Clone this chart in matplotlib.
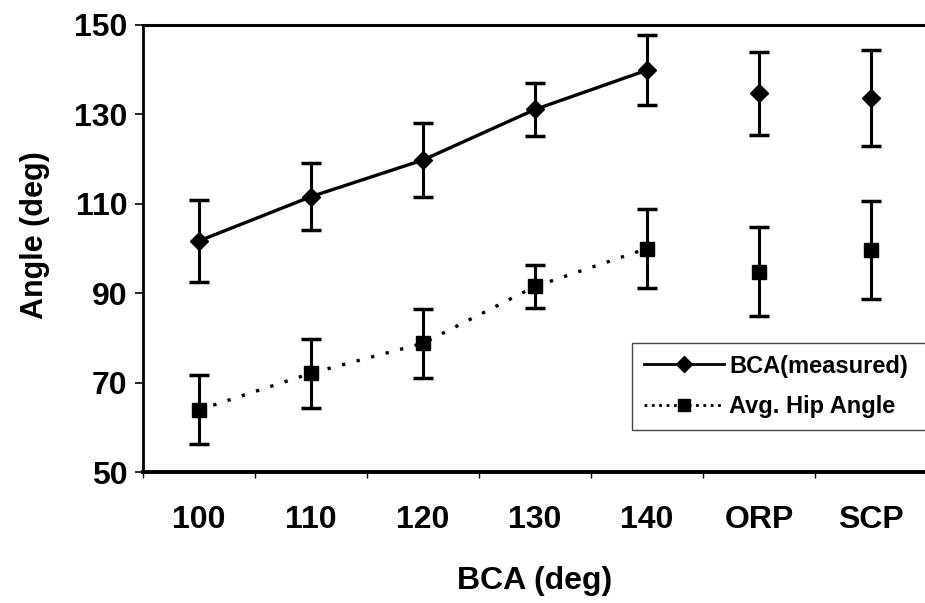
import numpy as np
import matplotlib
matplotlib.use("Agg")
import matplotlib.pyplot as plt
from matplotlib.ticker import FixedLocator

plt.rcParams['font.family'] = ['Liberation Sans', 'DejaVu Sans']

# data
categories = ['100', '110', '120', '130', '140', 'ORP', 'SCP']
bca = [101.7, 111.6, 119.8, 131.1, 139.9, 134.7, 133.7]
bca_err = [9.2, 7.5, 8.3, 6.0, 7.8, 9.3, 10.7]
hip = [63.9, 72.1, 78.8, 91.5, 100.0, 94.8, 99.7]
hip_err = [7.7, 7.7, 7.7, 4.8, 8.9, 10.0, 11.0]

x = np.arange(len(categories))
n_line = 5  # the first five are joined by lines

fig = plt.figure(figsize=(9.25, 6.03), dpi=100)
ax = fig.add_axes([143 / 925, 1 - 472 / 603, 784 / 925, 447 / 603])

# error bars
ax.errorbar(x, bca, yerr=bca_err, fmt='none', ecolor='black',
            elinewidth=2.2, capsize=7.5, capthick=2.5, zorder=2)
ax.errorbar(x, hip, yerr=hip_err, fmt='none', ecolor='black',
            elinewidth=2.2, capsize=7.5, capthick=2.5, zorder=2)

# joined series
ax.plot(x[:n_line], bca[:n_line], '-', color='black', lw=2.4, zorder=3)
ax.plot(x[:n_line], hip[:n_line], ':', color='black', lw=2.4, zorder=3,
        dashes=(1, 3.5))
# markers
ax.plot(x, bca, 'D', color='black', ms=9, ls='none', zorder=4)
ax.plot(x, hip, 's', color='black', ms=10, ls='none', zorder=4)

# legend proxies
h1, = ax.plot([], [], '-D', color='black', lw=2.0, ms=8)
h2, = ax.plot([], [], ':s', color='black', lw=2.0, ms=9)
leg = ax.legend([h1, h2], ['BCA(measured)', 'Avg. Hip Angle'],
                loc='upper left', bbox_to_anchor=(0.624, 0.094, 0.39, 0.195),
                mode='expand', prop={'size': 17, 'weight': 'bold'},
                frameon=True, fancybox=False, framealpha=1,
                borderaxespad=0, handlelength=3.4, handletextpad=0.2,
                labelspacing=0.75, borderpad=0.5)
leg.get_frame().set_edgecolor('#444444')
leg.get_frame().set_linewidth(1.0)

ax.set_xlim(-0.5, len(categories) - 0.5)
ax.set_ylim(50, 150)
ax.set_yticks([50, 70, 90, 110, 130, 150])
ax.set_xticks(x)
ax.set_xticklabels(categories)
ax.xaxis.set_minor_locator(FixedLocator(np.arange(-0.5, len(categories), 1.0)))
ax.tick_params(axis='x', which='major', length=0, pad=24, labelsize=23)
ax.tick_params(axis='x', which='minor', length=4, width=1, direction='out')
ax.tick_params(axis='y', length=6, width=1.2, direction='out', pad=5,
               labelsize=23)
for lab in ax.get_xticklabels() + ax.get_yticklabels():
    lab.set_fontweight('bold')

ax.spines['right'].set_visible(False)
ax.spines['left'].set_linewidth(2.0)
ax.spines['bottom'].set_linewidth(2.8)
ax.spines['top'].set_linewidth(2.2)

ax.set_xlabel('BCA (deg)', fontsize=23, fontweight='bold', labelpad=22)
ax.set_ylabel('Angle (deg)', fontsize=22, fontweight='bold')
ax.yaxis.set_label_coords(-0.118, 0.53)

fig.savefig('out.png', dpi=100)
